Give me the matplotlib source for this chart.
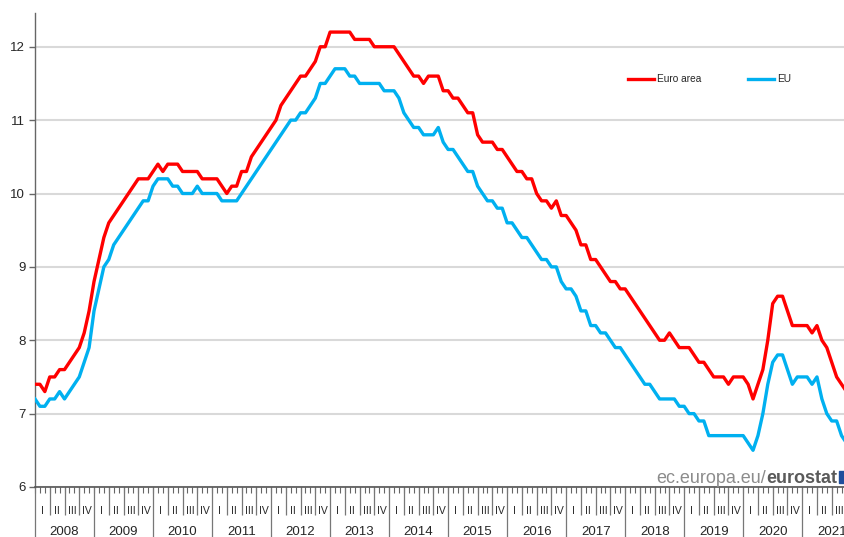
import numpy as np
import matplotlib
matplotlib.use("Agg")
import matplotlib.pyplot as plt
from matplotlib.patches import Rectangle

plt.rcParams['font.family'] = ['Liberation Sans', 'DejaVu Sans']

# ---------------- data (monthly, Jan 2008 - Oct 2021) ----------------
years = list(range(2008, 2022))
quarter_labels = ['I', 'II', 'III', 'IV']
series_names = ['Euro area', 'EU']

euro_area = [
    7.4, 7.4, 7.3, 7.5, 7.5, 7.6, 7.6, 7.7, 7.8, 7.9, 8.1, 8.4,          # 2008
    8.8, 9.1, 9.4, 9.6, 9.7, 9.8, 9.9, 10.0, 10.1, 10.2, 10.2, 10.2,     # 2009
    10.3, 10.4, 10.3, 10.4, 10.4, 10.4, 10.3, 10.3, 10.3, 10.3, 10.2, 10.2,  # 2010
    10.2, 10.2, 10.1, 10.0, 10.1, 10.1, 10.3, 10.3, 10.5, 10.6, 10.7, 10.8,  # 2011
    10.9, 11.0, 11.2, 11.3, 11.4, 11.5, 11.6, 11.6, 11.7, 11.8, 12.0, 12.0,  # 2012
    12.2, 12.2, 12.2, 12.2, 12.2, 12.1, 12.1, 12.1, 12.1, 12.0, 12.0, 12.0,  # 2013
    12.0, 12.0, 11.9, 11.8, 11.7, 11.6, 11.6, 11.5, 11.6, 11.6, 11.6, 11.4,  # 2014
    11.4, 11.3, 11.3, 11.2, 11.1, 11.1, 10.8, 10.7, 10.7, 10.7, 10.6, 10.6,  # 2015
    10.5, 10.4, 10.3, 10.3, 10.2, 10.2, 10.0, 9.9, 9.9, 9.8, 9.9, 9.7,      # 2016
    9.7, 9.6, 9.5, 9.3, 9.3, 9.1, 9.1, 9.0, 8.9, 8.8, 8.8, 8.7,             # 2017
    8.7, 8.6, 8.5, 8.4, 8.3, 8.2, 8.1, 8.0, 8.0, 8.1, 8.0, 7.9,             # 2018
    7.9, 7.9, 7.8, 7.7, 7.7, 7.6, 7.5, 7.5, 7.5, 7.4, 7.5, 7.5,             # 2019
    7.5, 7.4, 7.2, 7.4, 7.6, 8.0, 8.5, 8.6, 8.6, 8.4, 8.2, 8.2,             # 2020
    8.2, 8.2, 8.1, 8.2, 8.0, 7.9, 7.7, 7.5, 7.4, 7.3,                       # 2021
]

eu = [
    7.2, 7.1, 7.1, 7.2, 7.2, 7.3, 7.2, 7.3, 7.4, 7.5, 7.7, 7.9,             # 2008
    8.4, 8.7, 9.0, 9.1, 9.3, 9.4, 9.5, 9.6, 9.7, 9.8, 9.9, 9.9,             # 2009
    10.1, 10.2, 10.2, 10.2, 10.1, 10.1, 10.0, 10.0, 10.0, 10.1, 10.0, 10.0,  # 2010
    10.0, 10.0, 9.9, 9.9, 9.9, 9.9, 10.0, 10.1, 10.2, 10.3, 10.4, 10.5,     # 2011
    10.6, 10.7, 10.8, 10.9, 11.0, 11.0, 11.1, 11.1, 11.2, 11.3, 11.5, 11.5,  # 2012
    11.6, 11.7, 11.7, 11.7, 11.6, 11.6, 11.5, 11.5, 11.5, 11.5, 11.5, 11.4,  # 2013
    11.4, 11.4, 11.3, 11.1, 11.0, 10.9, 10.9, 10.8, 10.8, 10.8, 10.9, 10.7,  # 2014
    10.6, 10.6, 10.5, 10.4, 10.3, 10.3, 10.1, 10.0, 9.9, 9.9, 9.8, 9.8,     # 2015
    9.6, 9.6, 9.5, 9.4, 9.4, 9.3, 9.2, 9.1, 9.1, 9.0, 9.0, 8.8,             # 2016
    8.7, 8.7, 8.6, 8.4, 8.4, 8.2, 8.2, 8.1, 8.1, 8.0, 7.9, 7.9,             # 2017
    7.8, 7.7, 7.6, 7.5, 7.4, 7.4, 7.3, 7.2, 7.2, 7.2, 7.2, 7.1,             # 2018
    7.1, 7.0, 7.0, 6.9, 6.9, 6.7, 6.7, 6.7, 6.7, 6.7, 6.7, 6.7,             # 2019
    6.7, 6.6, 6.5, 6.7, 7.0, 7.4, 7.7, 7.8, 7.8, 7.6, 7.4, 7.5,             # 2020
    7.5, 7.5, 7.4, 7.5, 7.2, 7.0, 6.9, 6.9, 6.7, 6.6,                       # 2021
]

# ---------------- figure ----------------
W, H = 845, 537
fig = plt.figure(figsize=(W / 100, H / 100), dpi=100)
ax_left, ax_bottom, ax_right, ax_top = 35, 50, 845, 13
ax_h_px = (H - ax_bottom) - ax_top
ax = fig.add_axes([ax_left / W, ax_bottom / H, (ax_right - ax_left) / W, ax_h_px / H])

months = np.arange(len(euro_area))
x_max = 164.7
ax.set_xlim(0, x_max)
ax.set_ylim(6, 12.46)

ax.plot(months, euro_area, color='#ff0000', lw=2.4, label=series_names[0], zorder=3)
ax.plot(months, eu, color='#00b0f0', lw=2.4, label=series_names[1], zorder=3)

# grid & spines
ax.set_yticks(range(6, 13))
ax.yaxis.grid(True, color='#d9d9d9', lw=1.5)
ax.set_axisbelow(True)
for s in ['top', 'right']:
    ax.spines[s].set_visible(False)
ax.spines['left'].set_color('#666666')
ax.spines['left'].set_linewidth(1.0)
ax.spines['bottom'].set_color('#555555')
ax.spines['bottom'].set_linewidth(1.2)
ax.tick_params(axis='y', direction='out', length=4, width=1, color='#666666',
               labelsize=9.5, labelcolor='#262626', pad=3)

# x axis: monthly minor ticks, quarter and year separators
ax.set_xticks([])
ax.set_xticks(np.arange(0, int(x_max) + 1), minor=True)
ax.tick_params(axis='x', which='minor', direction='out', length=4.5, width=0.8,
               color='#666666')
xt = ax.get_xaxis_transform()
px = 1.0 / ax_h_px
q_bounds = [m for m in range(0, int(x_max) + 1, 3) if m % 12 != 0]
y_bounds = [m for m in range(0, int(x_max) + 1, 12)]
ax.vlines(q_bounds, -28 * px, 0, transform=xt, colors='#777777', lw=0.9, clip_on=False)
ax.vlines(y_bounds, -50 * px, 0, transform=xt, colors='#777777', lw=0.9, clip_on=False)

for yi, yr in enumerate(years):
    base = yi * 12
    for qi, ql in enumerate(quarter_labels):
        xc = base + qi * 3 + 1.5
        if xc < x_max:
            ax.text(xc, -24 * px, ql, transform=xt, ha='center', va='center',
                    fontsize=7.5, color='#262626')
    xc = base + 6
    if xc < x_max:
        ax.text(xc, -45 * px, str(yr), transform=xt, ha='center', va='center',
                fontsize=9.5, color='#262626')

# legend
leg = ax.legend(loc='center left',
                bbox_to_anchor=((628 - ax_left) / (ax_right - ax_left),
                                ((H - ax_bottom) - 79.3) / ax_h_px),
                ncol=2, frameon=False, fontsize=7.3, handlelength=2.55,
                handletextpad=0.3, columnspacing=4.6, borderpad=0, borderaxespad=0)
for t in leg.get_texts():
    t.set_color('#262626')

# eurostat watermark
fig.canvas.draw()
r = fig.canvas.get_renderer()
t2 = fig.text(837 / W, (H - 483) / H, 'eurostat', ha='right', va='baseline',
              fontsize=13, fontweight='bold', color='#5a5a5a')
bb = t2.get_window_extent(renderer=r)
fig.text(bb.x0 / W, (H - 483) / H, 'ec.europa.eu/', ha='right', va='baseline',
         fontsize=13, color='#8c8c8c')
fig.patches.append(Rectangle((839 / W, (H - 483) / H), 9 / W, 12 / H,
                             transform=fig.transFigure, color='#1f4e9c'))

fig.savefig('out.png', dpi=100)
